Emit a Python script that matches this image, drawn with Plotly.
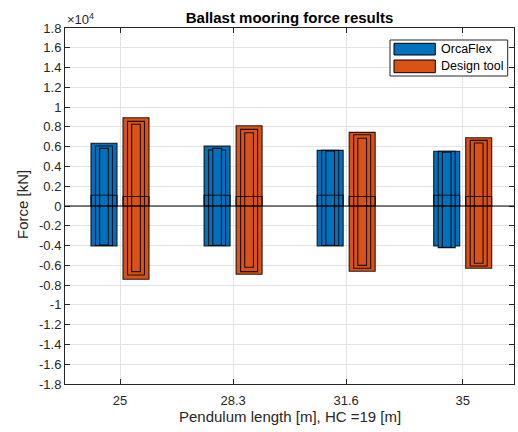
import plotly.graph_objects as go

# Pendulum lengths [m] and their tick labels
lengths = [25, 28.3, 31.6, 35]
length_labels = ["25", "28.3", "31.6", "35"]

# OrcaFlex mooring force [N]: outer envelope, two inner bands, mean
orca_max = [6350, 6050, 5630, 5530]
orca_min = [-4040, -4040, -4040, -4040]
orca_band1_max = [6070, 5660, 5630, 5530]
orca_band1_min = [-4000, -3990, -3990, -4210]
orca_band2_max = [5830, 5830, 5560, 5430]
orca_band2_min = [-3950, -3970, -3970, -4170]
orca_mean = [1080, 1080, 1080, 1080]

# Design tool mooring force [N]
design_max = [8930, 8120, 7450, 6900]
design_min = [-7410, -6900, -6600, -6300]
design_band1_max = [8560, 7750, 7210, 6640]
design_band1_min = [-6980, -6640, -6300, -6070]
design_band2_max = [8260, 7410, 6850, 6370]
design_band2_min = [-6640, -6200, -6000, -5790]
design_mean = [960, 960, 960, 960]

BLUE = "#0072BD"
ORANGE = "#D95319"
EDGE = "rgba(0,0,0,0.85)"
FONT = "Liberation Sans, Arial, Helvetica, sans-serif"

# bar geometry in x-axis units
GROUP_SHIFT = 0.467
W_OUTER, W_BAND1, W_BAND2 = 0.759, 0.496, 0.254

fig = go.Figure()


def add_series(center_shift, color, lo, hi, b1lo, b1hi, b2lo, b2hi, mean):
    for lo_v, hi_v, w in ((lo, hi, W_OUTER), (b1lo, b1hi, W_BAND1), (b2lo, b2hi, W_BAND2)):
        fig.add_trace(go.Bar(
            x=lengths,
            y=[h - l for h, l in zip(hi_v, lo_v)],
            base=lo_v,
            width=w,
            offset=center_shift - w / 2,
            marker=dict(color=color, line=dict(color=EDGE, width=1.1)),
            showlegend=False,
            hoverinfo="skip",
        ))
    # mean level drawn as an outline-only bar from zero
    fig.add_trace(go.Bar(
        x=lengths,
        y=mean,
        width=W_OUTER,
        offset=center_shift - W_OUTER / 2,
        marker=dict(color="rgba(0,0,0,0)", line=dict(color=EDGE, width=1.1)),
        showlegend=False,
        hoverinfo="skip",
    ))


add_series(-GROUP_SHIFT, BLUE, orca_min, orca_max, orca_band1_min, orca_band1_max,
           orca_band2_min, orca_band2_max, orca_mean)
add_series(GROUP_SHIFT, ORANGE, design_min, design_max, design_band1_min, design_band1_max,
           design_band2_min, design_band2_max, design_mean)

y_ticks = list(range(-18000, 18001, 2000))
y_text = [f"{v / 1e4:g}" for v in y_ticks]

axis_common = dict(
    showline=True, linecolor="#262626", linewidth=1,
    mirror="ticks", ticks="inside", ticklen=5, tickcolor="#262626",
    showgrid=True, gridcolor="#e3e3e3", gridwidth=1,
    zeroline=False,
    tickfont=dict(family=FONT, size=13, color="#262626"),
)

fig.update_layout(
    width=518, height=432,
    margin=dict(l=65, r=4, t=28, b=48),
    paper_bgcolor="white", plot_bgcolor="white",
    barmode="overlay",
    font=dict(family=FONT, color="#262626"),
    title=dict(
        text="<b>Ballast mooring force results</b>",
        x=0.5, xref="paper", xanchor="center",
        y=1 - 17.5 / 432, yref="container", yanchor="middle",
        font=dict(family=FONT, size=15, color="#000000"),
    ),
    xaxis=dict(
        range=[23.395, 36.497],
        tickvals=lengths, ticktext=length_labels,
        ticklabelstandoff=4,
        **axis_common,
    ),
    yaxis=dict(
        range=[-18000, 18000],
        tickvals=y_ticks, ticktext=y_text,
        **axis_common,
    ),
)

# zero reference line above the bars
fig.add_shape(type="line", xref="paper", yref="y", x0=0, x1=1, y0=0, y1=0,
              line=dict(color="#000000", width=1), layer="above")

PLOT_L, PLOT_R, PLOT_T, PLOT_B = 65, 514, 28, 384


def px(xp):
    return (xp - PLOT_L) / (PLOT_R - PLOT_L)


def py(yp):
    return (PLOT_B - yp) / (PLOT_B - PLOT_T)


annotations = [
    dict(text="×10<sup>4</sup>", x=0, y=1, xref="paper", yref="paper",
         xanchor="left", yanchor="bottom", showarrow=False, yshift=-1,
         font=dict(family=FONT, size=13, color="#262626")),
    dict(text="Pendulum length [m], HC =19 [m]", x=0.5, y=py(416), xref="paper", yref="paper",
         xanchor="center", yanchor="middle", showarrow=False,
         font=dict(family=FONT, size=15, color="#262626")),
    dict(text="Force [kN]", x=px(22), y=py(205), xref="paper", yref="paper",
         xanchor="center", yanchor="middle", showarrow=False, textangle=-90,
         font=dict(family=FONT, size=15, color="#262626")),
]

# legend box
fig.add_shape(type="rect", xref="paper", yref="paper",
              x0=px(390), x1=px(507.7), y0=py(76), y1=py(40),
              line=dict(color="#262626", width=1), fillcolor="white", layer="above")
for name, color, top, bot in (("OrcaFlex", BLUE, 43.3, 55), ("Design tool", ORANGE, 60, 72.7)):
    fig.add_shape(type="rect", xref="paper", yref="paper",
                  x0=px(394), x1=px(435.3), y0=py(bot), y1=py(top),
                  line=dict(color="#000000", width=1), fillcolor=color, layer="above")
    annotations.append(dict(text=name, x=px(439), y=py((top + bot) / 2), xref="paper", yref="paper",
                            xanchor="left", yanchor="middle", showarrow=False,
                            font=dict(family=FONT, size=12.5, color="#000000")))

fig.update_layout(annotations=annotations)

fig.write_html("out.html")
